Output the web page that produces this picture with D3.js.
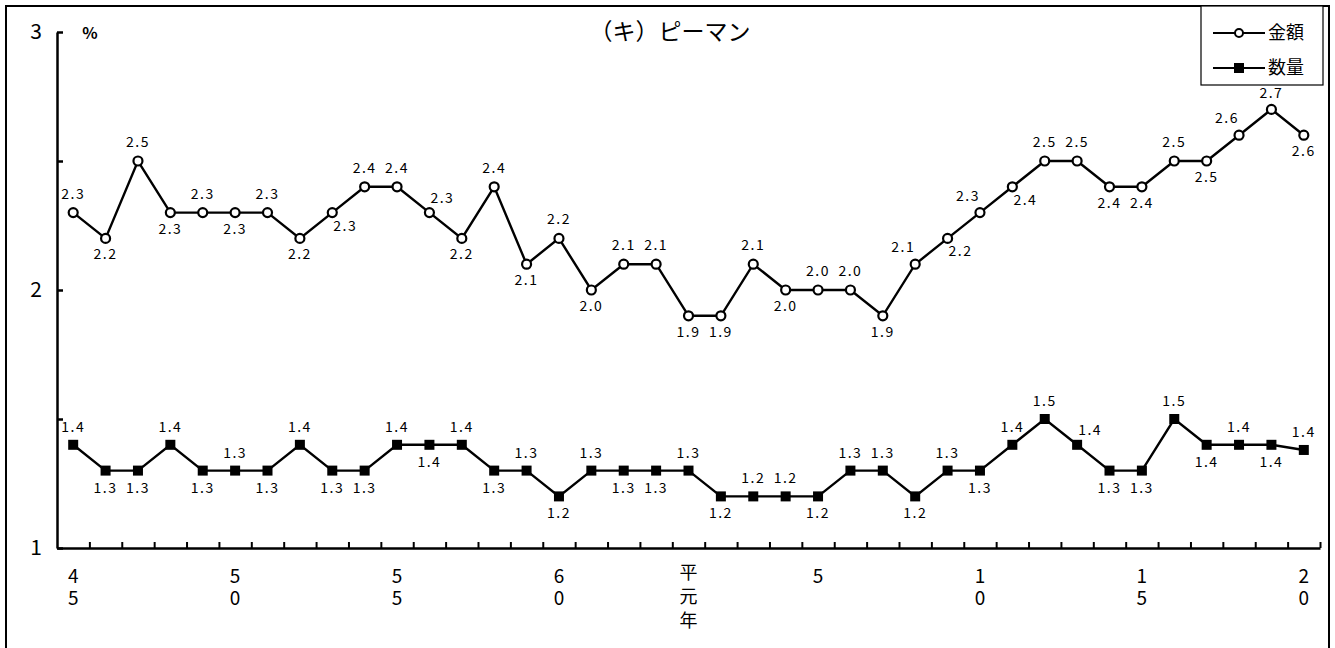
<!DOCTYPE html>
<html><head><meta charset="utf-8">
<script src="https://cdn.jsdelivr.net/npm/d3@7"></script>
<style>
body{margin:0;background:#fff;}
svg{display:block;}
text{font-family:"Noto Sans CJK JP","Noto Sans",sans-serif;fill:#000;}
</style></head>
<body>
<svg id="chart" width="1335" height="648"></svg>
<script>
// Years: Showa 45 (1970) .. Heisei 20 (2008)
const years = d3.range(1970, 2009);
const xTickLabels = [
  {year:1970, label:["4","5"]},
  {year:1975, label:["5","0"]},
  {year:1980, label:["5","5"]},
  {year:1985, label:["6","0"]},
  {year:1989, label:["平","元","年"]},
  {year:1993, label:["5"]},
  {year:1998, label:["1","0"]},
  {year:2003, label:["1","5"]},
  {year:2008, label:["2","0"]}
];
const valueSeries = [2.3,2.2,2.5,2.3,2.3,2.3,2.3,2.2,2.3,2.4,2.4,2.3,2.2,2.4,2.1,2.2,2.0,2.1,2.1,1.9,1.9,2.1,2.0,2.0,2.0,1.9,2.1,2.2,2.3,2.4,2.5,2.5,2.4,2.4,2.5,2.5,2.6,2.7,2.6];
const quantitySeries = [1.4,1.3,1.3,1.4,1.3,1.3,1.3,1.4,1.3,1.3,1.4,1.4,1.4,1.3,1.3,1.2,1.3,1.3,1.3,1.3,1.2,1.2,1.2,1.2,1.3,1.3,1.2,1.3,1.3,1.4,1.5,1.4,1.3,1.3,1.5,1.4,1.4,1.4,1.38];
const seriesNames = ["金額","数量"];
const yTicks = [1,1.5,2,2.5,3];
const title = "（キ）ピーマン";
const unitLabel = "%";
// label placement codes (a=above, b=below, r/l = shifted right/left, t = tight above)
const valueLabelPlace = ["a","b","a","b","a","b","a","b","br","a","a","ar","b","a","b","a","b","a","a","b","b","a","b","a","a","b","al","br","al","br","a","a","b","b","a","b","al","at","b"];
const quantityLabelPlace = ["a","b","b","a","b","a","b","a","b","b","a","b","a","b","a","b","a","b","b","a","b","a","a","b","a","a","b","a","b","a","a","ar","b","b","a","b","a","b","a"];

const svg = d3.select("#chart");
const mLeft = 57, mRight = 1320, mTop = 32, mBottom = 548;
const digitFont = '"Liberation Sans",sans-serif';

// frame
svg.append("rect").attr("x",6).attr("y",6).attr("width",1323).attr("height",680)
  .attr("fill","none").attr("stroke","#000").attr("stroke-width",2);

const x = d3.scaleLinear().domain([-0.5, years.length-0.5]).range([mLeft, mRight]);
const y = d3.scaleLinear().domain([1,3]).range([mBottom, mTop]);

// y axis
const yAxis = d3.axisLeft(y).tickValues(yTicks).tickSize(-6).tickSizeOuter(0).tickPadding(15)
  .tickFormat(d => Number.isInteger(d) ? d3.format("d")(d) : "");
const gy = svg.append("g").attr("transform",`translate(${mLeft},0)`).call(yAxis);
gy.select(".domain").attr("stroke-width",2.5);
gy.selectAll(".tick line").attr("stroke-width",2.5);
gy.selectAll(".tick text").attr("font-size",21).attr("font-family",digitFont);

// x axis
const xAxis = d3.axisBottom(x).tickValues(d3.range(0.5, years.length, 1)).tickSize(-6).tickSizeOuter(0).tickFormat("");
const gx = svg.append("g").attr("transform",`translate(0,${mBottom})`).call(xAxis);
gx.select(".domain").attr("stroke-width",2.5);
gx.selectAll(".tick line").attr("stroke-width",2);

// x labels (vertical text, one element per label)
xTickLabels.forEach(t => {
  const i = years.indexOf(t.year);
  const isKanji = /[^\d]/.test(t.label[0]);
  svg.append("text").attr("x", x(i)).attr("y", isKanji ? 563 : 566)
    .attr("font-size", isKanji ? 18 : 19)
    .style("writing-mode","vertical-rl")
    .style("text-orientation","upright")
    .attr("letter-spacing", isKanji ? "6px" : "3px")
    .text(t.label.join(""));
});

// unit & title
svg.append("text").attr("x",90).attr("y",39).attr("text-anchor","middle").attr("font-size",16).attr("font-weight","bold").text(unitLabel);
svg.append("text").attr("x",670).attr("y",40).attr("text-anchor","middle").attr("font-size",23).text(title);

const line = d3.line().x((d,i)=>x(i)).y(d=>y(d));

function labelOffset(code, isValue){
  let dx = 0, dy = 0;
  if (code[0] === "a") dy = isValue ? -19 : -18;
  else dy = isValue ? 16 : 17;
  if (code.length > 1) {
    if (code[1] === "r") { dx = 13; dy = code[0]==="a" ? -15 : 13; }
    if (code[1] === "l") { dx = -12; dy = code[0]==="a" ? -17 : 13; }
    if (code[1] === "t") { dy = -16; }
  }
  return [dx, dy];
}

function drawSeries(data, places, isValue){
  svg.append("path").datum(data).attr("d", line).attr("fill","none").attr("stroke","#000").attr("stroke-width",2.4);
  if (isValue) {
    svg.selectAll(null).data(data).enter().append("circle")
      .attr("cx",(d,i)=>x(i)).attr("cy",d=>y(d)).attr("r",4.5)
      .attr("fill","#fff").attr("stroke","#000").attr("stroke-width",2.2);
  } else {
    svg.selectAll(null).data(data).enter().append("rect")
      .attr("x",(d,i)=>x(i)-5).attr("y",d=>y(d)-5).attr("width",10).attr("height",10)
      .attr("fill","#000");
  }
  svg.selectAll(null).data(data).enter().append("text")
    .attr("x",(d,i)=>x(i)+labelOffset(places[i],isValue)[0])
    .attr("y",(d,i)=>y(d)+labelOffset(places[i],isValue)[1])
    .attr("dy","0.35em").attr("text-anchor","middle").attr("font-size",14)
    .attr("letter-spacing","1.5px")
    .text(d=>d3.format(".1f")(d));
}
drawSeries(valueSeries, valueLabelPlace, true);
drawSeries(quantitySeries, quantityLabelPlace, false);

// legend
const lg = svg.append("g");
lg.append("rect").attr("x",1201).attr("y",6).attr("width",122).attr("height",79)
  .attr("fill","#fff").attr("stroke","#000").attr("stroke-width",1.2);
[0,1].forEach(k => {
  const ly = 33 + k*35;
  lg.append("line").attr("x1",1213).attr("x2",1265).attr("y1",ly).attr("y2",ly).attr("stroke","#000").attr("stroke-width",2);
  if (k === 0) lg.append("circle").attr("cx",1239).attr("cy",ly).attr("r",4).attr("fill","#fff").attr("stroke","#000").attr("stroke-width",2);
  else lg.append("rect").attr("x",1234).attr("y",ly-5).attr("width",10).attr("height",10).attr("fill","#000");
  lg.append("text").attr("x",1268).attr("y",ly).attr("dy","0.35em").attr("font-size",18).text(seriesNames[k]);
});
</script>
</body></html>
